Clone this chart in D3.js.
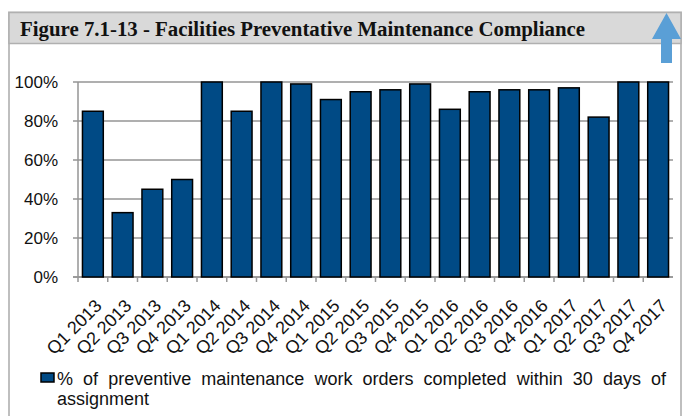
<!DOCTYPE html>
<html>
<head>
<meta charset="utf-8">
<script src="https://cdn.jsdelivr.net/npm/d3@7"></script>
<style>
  body { margin: 0; background: #fff; }
  svg { display: block; }
</style>
</head>
<body>
<div id="chart"></div>
<script>
// Quarterly compliance values
const quarters = [
  "Q1 2013", "Q2 2013", "Q3 2013", "Q4 2013",
  "Q1 2014", "Q2 2014", "Q3 2014", "Q4 2014",
  "Q1 2015", "Q2 2015", "Q3 2015", "Q4 2015",
  "Q1 2016", "Q2 2016", "Q3 2016", "Q4 2016",
  "Q1 2017", "Q2 2017", "Q3 2017", "Q4 2017"
];
const compliance = [85, 33, 45, 50, 100, 85, 100, 99, 91, 95, 96, 99, 86, 95, 96, 96, 97, 82, 100, 100];
const yTicks = [0, 20, 40, 60, 80, 100];
const titleText = "Figure 7.1-13 - Facilities Preventative Maintenance Compliance";
const legendText = "% of preventive maintenance work orders completed within 30 days of";
const legendText2 = "assignment";

const width = 687, height = 416;
const plotLeft = 78, plotRight = 673, plotTop = 82, plotBottom = 277;
const barColor = "#004a85";

const svg = d3.select("#chart")
  .append("svg")
  .attr("width", width)
  .attr("height", height);

// frame + title bar
svg.append("rect")
  .attr("x", 9).attr("y", 12.5)
  .attr("width", 672).attr("height", 420)
  .attr("fill", "#fff")
  .attr("stroke", "#bfbfbf")
  .attr("stroke-width", 2);

svg.append("rect")
  .attr("x", 9).attr("y", 12.5)
  .attr("width", 672).attr("height", 31)
  .attr("fill", "#d9d9d9")
  .attr("stroke", "#b0b0b0")
  .attr("stroke-width", 1.5);

svg.append("text")
  .attr("x", 20)
  .attr("y", 36)
  .attr("textLength", 565)
  .attr("lengthAdjust", "spacingAndGlyphs")
  .style("font-family", "'Liberation Serif', 'Times New Roman', serif")
  .style("font-weight", "bold")
  .style("font-size", "20px")
  .style("fill", "#111")
  .text(titleText);

// blue up arrow in the corner
svg.append("path")
  .attr("d", "M666.5,13 L681,39 L672,39 L672,63 L661,63 L661,39 L652,39 Z")
  .attr("fill", "#5a9fd6");

const x = d3.scaleBand()
  .domain(quarters)
  .range([plotLeft, plotRight])
  .paddingInner(0.3)
  .paddingOuter(0.15);

const y = d3.scaleLinear()
  .domain([0, 100])
  .range([plotBottom, plotTop]);

// gridlines and y labels
const grid = svg.append("g");
grid.selectAll("line")
  .data(yTicks)
  .join("line")
  .attr("x1", plotLeft - 5)
  .attr("x2", plotRight)
  .attr("y1", d => y(d))
  .attr("y2", d => y(d))
  .attr("stroke", "#959595")
  .attr("stroke-width", 1.5);

grid.selectAll("text")
  .data(yTicks)
  .join("text")
  .attr("x", 58)
  .attr("y", d => y(d))
  .attr("dy", "0.36em")
  .attr("text-anchor", "end")
  .style("font-family", "'Liberation Sans', Arial, sans-serif")
  .style("font-size", "17px")
  .style("fill", "#111")
  .text(d => d + "%");

// axis lines
svg.append("line")
  .attr("x1", plotLeft).attr("x2", plotLeft)
  .attr("y1", plotTop).attr("y2", plotBottom)
  .attr("stroke", "#959595").attr("stroke-width", 1.5);
svg.append("line")
  .attr("x1", plotLeft - 5).attr("x2", plotRight)
  .attr("y1", plotBottom).attr("y2", plotBottom)
  .attr("stroke", "#959595").attr("stroke-width", 1.5);

// category boundary ticks
svg.append("g").selectAll("line")
  .data(quarters)
  .join("line")
  .attr("x1", d => x(d) - x.step() * 0.15)
  .attr("x2", d => x(d) - x.step() * 0.15)
  .attr("y1", plotBottom)
  .attr("y2", plotBottom + 5)
  .attr("stroke", "#959595")
  .attr("stroke-width", 1.5);

// bars
svg.append("g").selectAll("rect")
  .data(quarters.map((q, i) => ({ q, v: compliance[i] })))
  .join("rect")
  .attr("x", d => x(d.q))
  .attr("y", d => y(d.v))
  .attr("width", x.bandwidth())
  .attr("height", d => plotBottom - y(d.v))
  .attr("fill", barColor)
  .attr("stroke", "#000")
  .attr("stroke-width", 1.5);

// rotated x labels
svg.append("g").selectAll("text")
  .data(quarters)
  .join("text")
  .attr("transform", d => `translate(${x(d) + x.bandwidth() / 2 + 10},${plotBottom + 30}) rotate(-45)`)
  .attr("text-anchor", "end")
  .style("font-family", "'Liberation Sans', Arial, sans-serif")
  .style("font-size", "18px")
  .style("fill", "#111")
  .text(d => d);

// legend
svg.append("rect")
  .attr("x", 41).attr("y", 373)
  .attr("width", 13).attr("height", 9)
  .attr("fill", barColor)
  .attr("stroke", "#000")
  .attr("stroke-width", 1.5);

const legendFont = "'Liberation Sans', Arial, sans-serif";
const words = legendText.split(" ");
const lg = svg.append("g")
  .style("font-family", legendFont)
  .style("font-size", "18px")
  .style("fill", "#111");

const wordNodes = lg.selectAll("text.w")
  .data(words)
  .join("text")
  .attr("class", "w")
  .attr("y", 385)
  .text(d => d);

// justify the first line between x=57 and x=666
const widths = wordNodes.nodes().map(n => n.getComputedTextLength());
const totalW = d3.sum(widths);
const gap = (666 - 57 - totalW) / (words.length - 1);
let cx = 57;
wordNodes.attr("x", (d, i) => {
  const pos = cx;
  cx += widths[i] + gap;
  return pos;
});

lg.append("text")
  .attr("x", 57)
  .attr("y", 405)
  .text(legendText2);
</script>
</body>
</html>
